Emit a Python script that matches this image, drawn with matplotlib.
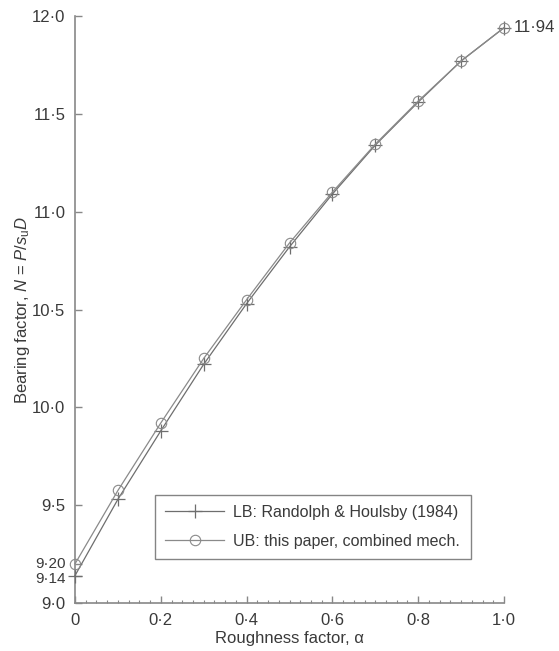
import matplotlib
matplotlib.use("Agg")
import matplotlib.pyplot as plt
from matplotlib.ticker import FixedLocator, FixedFormatter, MultipleLocator
import matplotlib.transforms as mtransforms

plt.rcParams['font.family'] = ['Liberation Sans', 'DejaVu Sans']
plt.rcParams['mathtext.fontset'] = 'custom'
plt.rcParams['mathtext.it'] = 'Liberation Sans:italic'
plt.rcParams['mathtext.rm'] = 'Liberation Sans'

alpha = [0.0, 0.1, 0.2, 0.3, 0.4, 0.5, 0.6, 0.7, 0.8, 0.9, 1.0]
lb_randolph = [9.14, 9.53, 9.88, 10.22, 10.53, 10.82, 11.09, 11.34, 11.56, 11.77, 11.94]
ub_combined = [9.20, 9.575, 9.92, 10.25, 10.55, 10.84, 11.10, 11.345, 11.565, 11.77, 11.94]

xtick_vals = [0, 0.2, 0.4, 0.6, 0.8, 1.0]
xtick_labels = ["0", "0·2", "0·4", "0·6", "0·8", "1·0"]
ytick_vals = [9.0, 9.14, 9.20, 9.5, 10.0, 10.5, 11.0, 11.5, 12.0]
ytick_labels = ["9·0", "9·14", "9·20", "9·5", "10·0", "10·5", "11·0", "11·5", "12·0"]
end_label = "11·94"

gray = '#6e6e6e'
axc = '#888888'
txt = '#3a3a3a'
fs = 12

fig = plt.figure(figsize=(5.59, 6.51), dpi=100)
ax = fig.add_axes([75/559, 1-603/651, (504-75)/559, (603-16)/651])

ax.plot(alpha, lb_randolph, color=gray, lw=0.9, marker='+', ms=10, mew=0.9,
        clip_on=False, label='LB: Randolph & Houlsby (1984)', zorder=3)
ax.plot(alpha, ub_combined, color='#8a8a8a', lw=0.9, marker='o', ms=7.5, mew=0.8,
        mfc='none', clip_on=False, label='UB: this paper, combined mech.', zorder=3)

ax.set_xlim(0, 1.0)
ax.set_ylim(9.0, 12.0)

for s in ['top', 'right']:
    ax.spines[s].set_visible(False)
for s in ['left', 'bottom']:
    ax.spines[s].set_color(axc)
    ax.spines[s].set_linewidth(1.2)

ax.xaxis.set_major_locator(FixedLocator(xtick_vals))
ax.xaxis.set_major_formatter(FixedFormatter(xtick_labels))
ax.xaxis.set_minor_locator(MultipleLocator(0.025))
ax.yaxis.set_major_locator(FixedLocator(ytick_vals))
ax.yaxis.set_major_formatter(FixedFormatter(ytick_labels))

ax.tick_params(axis='both', which='major', direction='in', length=5, width=1.0,
               color=axc, labelcolor=txt, labelsize=fs, pad=7)
ax.tick_params(axis='x', which='minor', direction='in', length=2.5, width=0.8, color=axc)

# the two close labels: slightly smaller and nudged apart
for lab in ax.get_yticklabels():
    if lab.get_text() in ("9·14", "9·20"):
        lab.set_fontsize(11)
        dy = -1.5 if lab.get_text() == "9·14" else 1.5
        lab.set_transform(lab.get_transform() +
                          mtransforms.ScaledTranslation(0, dy/100, fig.dpi_scale_trans))

ax.set_xlabel('Roughness factor, α', fontsize=fs, color=txt, labelpad=2)
ax.set_ylabel(r'Bearing factor, $N$ = $P$/$s_{\rm u}D$', fontsize=fs, color=txt, labelpad=0)

ax.annotate(end_label, xy=(alpha[-1], ub_combined[-1]), xytext=(7, 0),
            textcoords='offset points', va='center', ha='left', fontsize=fs,
            color=txt, annotation_clip=False)

leg = ax.legend(loc='lower left', bbox_to_anchor=((155-75)/429, (603-559)/587),
                frameon=True, fancybox=False, edgecolor='#666666', fontsize=11.5,
                handlelength=3.7, borderpad=0.65, labelspacing=0.85, handletextpad=0.55,
                borderaxespad=0)
leg.get_frame().set_linewidth(1.0)
for t in leg.get_texts():
    t.set_color(txt)

fig.savefig('out.png', dpi=100)
